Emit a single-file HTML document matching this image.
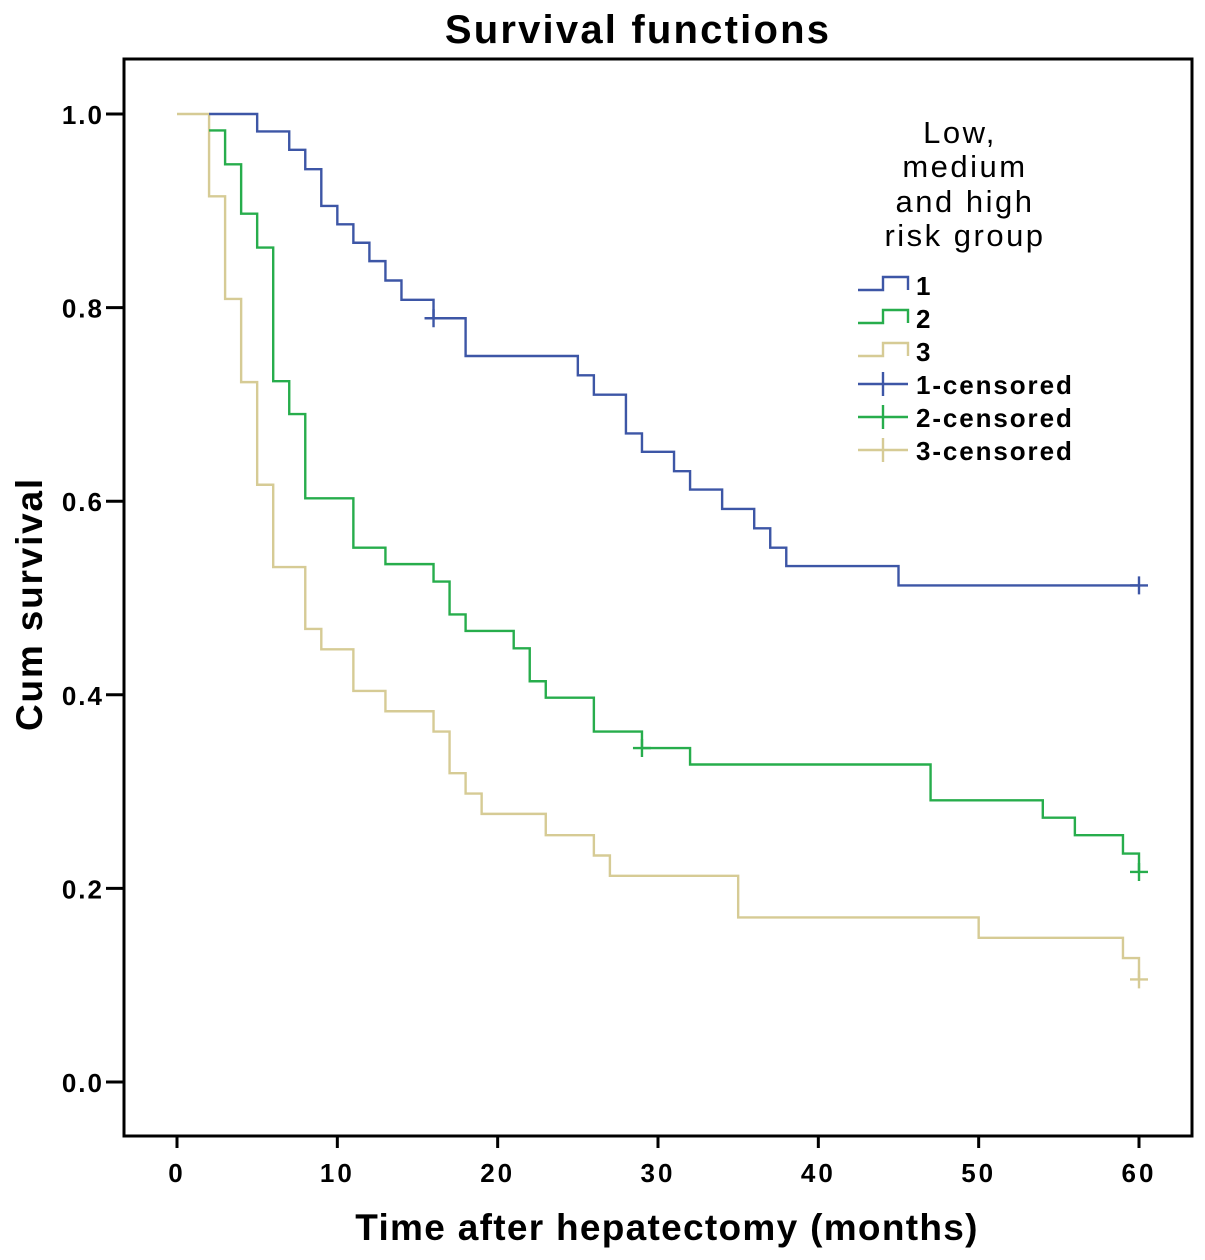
<!DOCTYPE html>
<html><head><meta charset="utf-8"><style>
body{margin:0;background:#fff}
svg{display:block;font-family:"Liberation Sans",Arial,sans-serif}
</style></head><body>
<svg id="chart" width="1205" height="1260">
<text x="638" y="43" text-anchor="middle" font-size="40" font-weight="bold" letter-spacing="2.2">Survival functions</text>
<rect x="124" y="59" width="1068" height="1077" fill="none" stroke="#000" stroke-width="3"/>
<text x="667" y="1240" text-anchor="middle" font-size="37" font-weight="bold" letter-spacing="1.3">Time after hepatectomy (months)</text>
<text transform="translate(42,604) rotate(-90)" text-anchor="middle" font-size="37" font-weight="bold" letter-spacing="1.8">Cum survival</text>
<g id="axes"></g>
<g id="series"></g>
<g font-size="31" text-anchor="middle" letter-spacing="2.5">
<text x="960" y="143">Low,</text>
<text x="965" y="177">medium</text>
<text x="965" y="212">and high</text>
<text x="965" y="246">risk group</text>
</g>
<g id="legend-items"></g>
</svg>
<script>
const xTicks=[0,10,20,30,40,50,60];
const yTicks=[0.0,0.2,0.4,0.6,0.8,1.0];
const g1Times=[2,5,7,8,9,10,11,12,13,14,16,18,25,26,28,29,31,32,34,36,37,38,45,60];
const g1Surv=[1.0,0.982,0.963,0.943,0.905,0.886,0.867,0.848,0.828,0.808,0.789,0.75,0.73,0.71,0.67,0.651,0.631,0.612,0.592,0.572,0.552,0.533,0.513,0.513];
const g1Cens=[[16,0.789],[60,0.513]];
const g2Times=[2,3,4,5,6,7,8,11,13,16,17,18,21,22,23,26,29,32,47,54,56,59,60];
const g2Surv=[0.983,0.948,0.897,0.862,0.724,0.69,0.603,0.552,0.535,0.517,0.483,0.466,0.448,0.414,0.397,0.362,0.345,0.328,0.291,0.273,0.255,0.236,0.217];
const g2Cens=[[29,0.345],[60,0.217]];
const g3Times=[0,2,3,4,5,6,8,9,11,13,16,17,18,19,23,26,27,35,50,59,60];
const g3Surv=[1.0,0.915,0.809,0.723,0.617,0.532,0.468,0.447,0.404,0.383,0.362,0.319,0.298,0.277,0.255,0.234,0.213,0.17,0.149,0.128,0.106];
const g3Cens=[[60,0.106]];
const NS="http://www.w3.org/2000/svg";
const X=t=>177+t*(1139-177)/60;
const Y=v=>1082-v*968;
function mk(tag,attrs,parent){const e=document.createElementNS(NS,tag);for(const k in attrs)e.setAttribute(k,attrs[k]);parent.appendChild(e);return e;}
const axes=document.getElementById('axes');
xTicks.forEach(t=>{
  const l=mk('line',{x1:X(t),x2:X(t),y1:1136,y2:1148,stroke:'#000','stroke-width':3},axes);
  
  
  const tx=mk('text',{x:X(t),y:1182,'text-anchor':'middle','font-size':26,'font-weight':'bold','letter-spacing':3},axes);
  tx.textContent=t;
  
  
});
yTicks.forEach(v=>{
  const l=mk('line',{x1:106,x2:124,y1:Y(v),y2:Y(v),stroke:'#000','stroke-width':3},axes);
  
  
  const tx=mk('text',{x:104,y:Y(v)+10,'text-anchor':'end','font-size':26,'font-weight':'bold','letter-spacing':2},axes);
  tx.textContent=v.toFixed(1);
  
  
});
const series=document.getElementById('series');
function step(times,surv,cens,color,name){
  let d='M'+X(times[0])+','+Y(surv[0]);
  for(let i=1;i<times.length;i++){d+=' H'+X(times[i])+' V'+Y(surv[i]);}
  const p=mk('path',{d:d,fill:'none',stroke:color,'stroke-width':2.4},series);
  
  
  cens.forEach(c=>{
    const m=mk('path',{d:'M'+(X(c[0])-9)+','+Y(c[1])+' h18 M'+X(c[0])+','+(Y(c[1])-9)+' v18',stroke:color,'stroke-width':2.4,fill:'none'},series);
    
    
  });
}
const C1='#3d56a6',C2='#27ad4c',C3='#d6cb95';
step(g3Times,g3Surv,g3Cens,C3,'group-3');
step(g2Times,g2Surv,g2Cens,C2,'group-2');
step(g1Times,g1Surv,g1Cens,C1,'group-1');
const leg=document.getElementById('legend-items');
const items=[['1',C1,0],['2',C2,0],['3',C3,0],['1-censored',C1,1],['2-censored',C2,1],['3-censored',C3,1]];
items.forEach((it,i)=>{
  const y=285+i*33;
  const d=it[2]?'M858,'+y+' h50 M883,'+(y-12)+' v24':'M858,'+(y+5)+' h25 V'+(y-8)+' H908 V'+(y+5);
  const p=mk('path',{d:d,fill:'none',stroke:it[1],'stroke-width':2.4},leg);
  
  
  const t=mk('text',{x:916,y:y+10,'font-size':26,'font-weight':'bold','letter-spacing':1.9},leg);
  t.textContent=it[0];
  
  
});
</script>
</body></html>
